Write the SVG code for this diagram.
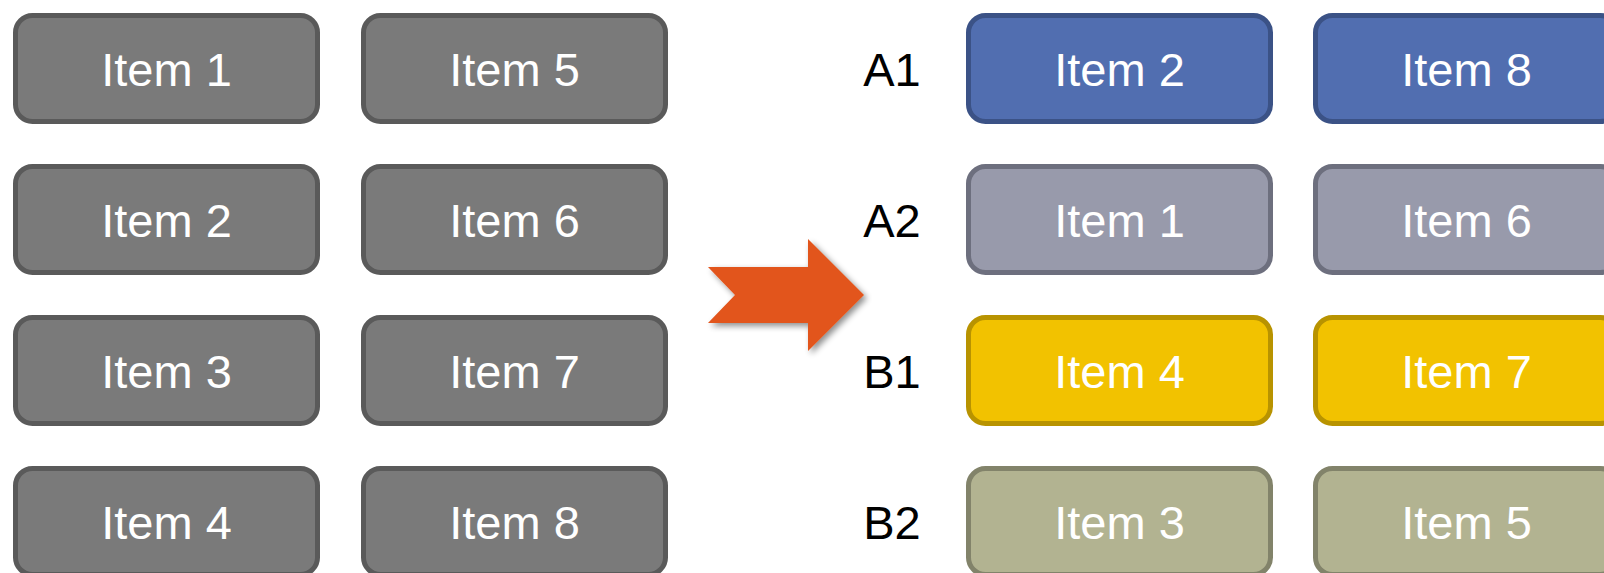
<svg xmlns="http://www.w3.org/2000/svg" width="1604" height="573" viewBox="0 0 1604 573">
<defs>
<style>
.box{stroke-width:5}
.gray{fill:#7a7a7a;stroke:#5a5a5a}
.blue{fill:#516eb0;stroke:#3b5286}
.lav{fill:#989aab;stroke:#6d6f7e}
.yel{fill:#f2c200;stroke:#b89300}
.oli{fill:#b2b391;stroke:#82836a}
.t{font-family:"Liberation Sans",Arial,sans-serif;font-size:47px;fill:#ffffff;text-anchor:middle}
.lbl{font-family:"Liberation Sans",Arial,sans-serif;font-size:47px;fill:#000000;text-anchor:middle}
</style>
<filter id="sh" x="-20%" y="-20%" width="150%" height="150%">
<feGaussianBlur in="SourceAlpha" stdDeviation="3"/>
<feOffset dx="3" dy="3" result="b"/>
<feComponentTransfer><feFuncA type="linear" slope="0.45"/></feComponentTransfer>
<feMerge><feMergeNode/><feMergeNode in="SourceGraphic"/></feMerge>
</filter>
</defs>
<rect width="1604" height="573" fill="#ffffff"/>
<g id="left-col1">
<g id="n-l1"><rect class="box gray" x="15.5" y="15.5" width="302" height="106" rx="17"/><text class="t" x="166.5" y="86">Item 1</text></g>
<g id="n-l2"><rect class="box gray" x="15.5" y="166.5" width="302" height="106" rx="17"/><text class="t" x="166.5" y="237">Item 2</text></g>
<g id="n-l3"><rect class="box gray" x="15.5" y="317.5" width="302" height="106" rx="17"/><text class="t" x="166.5" y="388">Item 3</text></g>
<g id="n-l4"><rect class="box gray" x="15.5" y="468.5" width="302" height="106" rx="17"/><text class="t" x="166.5" y="539">Item 4</text></g>
</g>
<g id="left-col2">
<g id="n-l5"><rect class="box gray" x="363.5" y="15.5" width="302" height="106" rx="17"/><text class="t" x="514.5" y="86">Item 5</text></g>
<g id="n-l6"><rect class="box gray" x="363.5" y="166.5" width="302" height="106" rx="17"/><text class="t" x="514.5" y="237">Item 6</text></g>
<g id="n-l7"><rect class="box gray" x="363.5" y="317.5" width="302" height="106" rx="17"/><text class="t" x="514.5" y="388">Item 7</text></g>
<g id="n-l8"><rect class="box gray" x="363.5" y="468.5" width="302" height="106" rx="17"/><text class="t" x="514.5" y="539">Item 8</text></g>
</g>
<g id="arrow">
<polygon points="708,267 808,267 808,239 864,295 808,351 808,323 708,323 735,295" fill="#e2541b" filter="url(#sh)"/>
</g>
<g id="labels">
<text class="lbl" x="892" y="86">A1</text>
<text class="lbl" x="892" y="237">A2</text>
<text class="lbl" x="892" y="388">B1</text>
<text class="lbl" x="892" y="539">B2</text>
</g>
<g id="right-col1">
<g id="n-r2"><rect class="box blue" x="968.5" y="15.5" width="302" height="106" rx="17"/><text class="t" x="1119.5" y="86">Item 2</text></g>
<g id="n-r1"><rect class="box lav" x="968.5" y="166.5" width="302" height="106" rx="17"/><text class="t" x="1119.5" y="237">Item 1</text></g>
<g id="n-r4"><rect class="box yel" x="968.5" y="317.5" width="302" height="106" rx="17"/><text class="t" x="1119.5" y="388">Item 4</text></g>
<g id="n-r3"><rect class="box oli" x="968.5" y="468.5" width="302" height="106" rx="17"/><text class="t" x="1119.5" y="539">Item 3</text></g>
</g>
<g id="right-col2">
<g id="n-r8"><rect class="box blue" x="1315.5" y="15.5" width="302" height="106" rx="17"/><text class="t" x="1466.5" y="86">Item 8</text></g>
<g id="n-r6"><rect class="box lav" x="1315.5" y="166.5" width="302" height="106" rx="17"/><text class="t" x="1466.5" y="237">Item 6</text></g>
<g id="n-r7"><rect class="box yel" x="1315.5" y="317.5" width="302" height="106" rx="17"/><text class="t" x="1466.5" y="388">Item 7</text></g>
<g id="n-r5"><rect class="box oli" x="1315.5" y="468.5" width="302" height="106" rx="17"/><text class="t" x="1466.5" y="539">Item 5</text></g>
</g>
</svg>
